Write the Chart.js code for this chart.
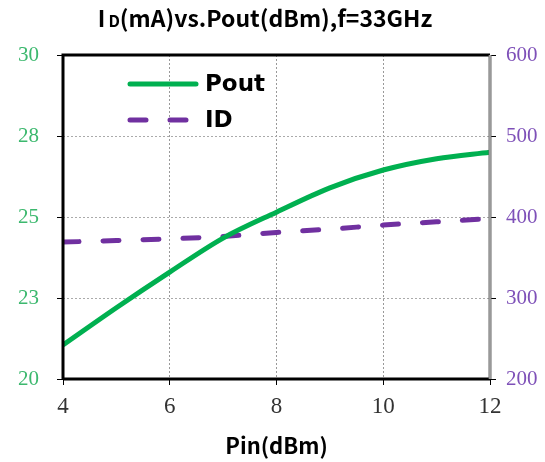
<!DOCTYPE html>
<html>
<head>
<meta charset="utf-8">
<script src="https://cdn.jsdelivr.net/npm/chart.js@4"></script>
<style>
  html, body { margin: 0; padding: 0; background: #fff; }
  #wrap { width: 545px; height: 462px; }
</style>
</head>
<body>
<div id="wrap"><canvas id="myChart" width="545" height="462"></canvas></div>
<script>
  const pin = [4, 5, 6, 7, 8, 9, 10, 11, 12];
  const pout = [21.05, 22.2, 23.3, 24.35, 25.15, 25.9, 26.45, 26.8, 27.0];
  const idCurrent = [369, 371, 373, 376, 381, 385, 390, 394, 398];
  const leftTicks = [20, 22.5, 25, 27.5, 30];
  const rightTicks = [200, 300, 400, 500, 600];
  const xTicks = [4, 6, 8, 10, 12];
  const titleParts = ['I', 'D', '(mA)vs.Pout(dBm),f=33GHz'];

  const GREEN = '#00b050';
  const PURPLE = '#7030a0';
  const CJK = '"Noto Sans CJK SC", sans-serif';

  // title, frame round the plot and the legend inside it
  const framePlugin = {
    id: 'frame',
    afterDatasetsDraw(chart) {
      const { ctx, chartArea: a } = chart;
      ctx.save();
      ctx.strokeStyle = '#000';
      ctx.lineWidth = 3;
      ctx.beginPath();
      ctx.moveTo(a.left, a.bottom);
      ctx.lineTo(a.left, a.top);
      ctx.lineTo(a.right, a.top);
      ctx.moveTo(a.left, a.bottom);
      ctx.lineTo(a.right, a.bottom);
      ctx.stroke();
      ctx.strokeStyle = '#666';
      ctx.beginPath();
      ctx.moveTo(a.right, a.top);
      ctx.lineTo(a.right, a.bottom);
      ctx.stroke();
      ctx.strokeStyle = '#ccc';
      ctx.lineWidth = 1;
      ctx.beginPath();
      ctx.moveTo(a.right, a.top);
      ctx.lineTo(a.right, a.bottom);
      ctx.stroke();

      // legend
      chart.data.datasets.forEach((ds, i) => {
        const y = 84 + i * 36;
        ctx.strokeStyle = ds.borderColor;
        ctx.lineWidth = 5;
        ctx.lineCap = 'round';
        ctx.setLineDash(ds.borderDash || []);
        ctx.beginPath();
        ctx.moveTo(130, y);
        ctx.lineTo(196, y);
        ctx.stroke();
        ctx.setLineDash([]);
        ctx.fillStyle = '#000';
        ctx.font = 'bold 23px "DejaVu Sans", sans-serif';
        ctx.textBaseline = 'middle';
        ctx.fillText(ds.label, 205, y + 1);
      });

      // title (small "D" after "I")
      ctx.fillStyle = '#000';
      ctx.textBaseline = 'alphabetic';
      const base = 27;
      const fonts = ['bold 23px ' + CJK, 'bold 16px ' + CJK, 'bold 23px ' + CJK];
      let total = 0;
      titleParts.forEach((t, i) => { ctx.font = fonts[i]; total += ctx.measureText(t).width + (i === 0 ? 3 : 0); });
      let x = 265 - total / 2;
      titleParts.forEach((t, i) => {
        ctx.font = fonts[i];
        ctx.fillText(t, x, base);
        x += ctx.measureText(t).width + (i === 0 ? 3 : 0);
      });
      ctx.restore();
    }
  };

  const ctx = document.getElementById('myChart').getContext('2d');
  new Chart(ctx, {
    type: 'line',
    data: {
      datasets: [
        {
          label: 'Pout',
          data: pin.map((x, i) => ({ x: x, y: pout[i] })),
          borderColor: GREEN,
          borderWidth: 5,
          pointRadius: 0,
          cubicInterpolationMode: 'monotone',
          yAxisID: 'y'
        },
        {
          label: 'ID',
          data: pin.map((x, i) => ({ x: x, y: idCurrent[i] })),
          borderColor: PURPLE,
          borderWidth: 5,
          borderDash: [16, 24],
          borderCapStyle: 'round',
          pointRadius: 0,
          cubicInterpolationMode: 'monotone',
          yAxisID: 'y1'
        }
      ]
    },
    options: {
      responsive: false,
      animation: false,
      layout: { padding: { top: 55 } },
      plugins: {
        legend: { display: false },
        tooltip: { enabled: false },
        title: { display: false }
      },
      scales: {
        x: {
          type: 'linear',
          min: 4,
          max: 12,
          afterBuildTicks: s => { s.ticks = xTicks.map(v => ({ value: v })); },
          afterFit: s => { s.height = 83; },
          border: { display: false, dash: [2, 2] },
          grid: { color: '#999', lineWidth: 1, tickLength: 6, tickColor: '#000' },
          ticks: { color: '#333', padding: 8, font: { family: '"Liberation Serif", serif', size: 23 } },
          title: {
            display: true,
            text: 'Pin(dBm)',
            color: '#000',
            padding: { top: 0, bottom: 3 },
            font: { family: CJK, size: 22, weight: 'bold' }
          }
        },
        y: {
          position: 'left',
          min: 20,
          max: 30,
          afterBuildTicks: s => { s.ticks = leftTicks.map(v => ({ value: v })); },
          afterFit: s => { s.width = 63; },
          border: { display: false, dash: [2, 2] },
          grid: { color: '#aaa', lineWidth: 1, tickLength: 6, tickColor: '#000' },
          ticks: {
            color: '#3cb86e',
            padding: 18,
            font: { family: '"Liberation Serif", serif', size: 21 },
            callback: v => String(Math.round(v))
          }
        },
        y1: {
          position: 'right',
          min: 200,
          max: 600,
          afterBuildTicks: s => { s.ticks = rightTicks.map(v => ({ value: v })); },
          afterFit: s => { s.width = 55; },
          border: { display: false },
          grid: { drawOnChartArea: false, tickLength: 6, tickColor: '#000' },
          ticks: { color: '#7e50b8', padding: 10, font: { family: '"Liberation Serif", serif', size: 21 } }
        }
      }
    },
    plugins: [framePlugin]
  });
</script>
</body>
</html>
